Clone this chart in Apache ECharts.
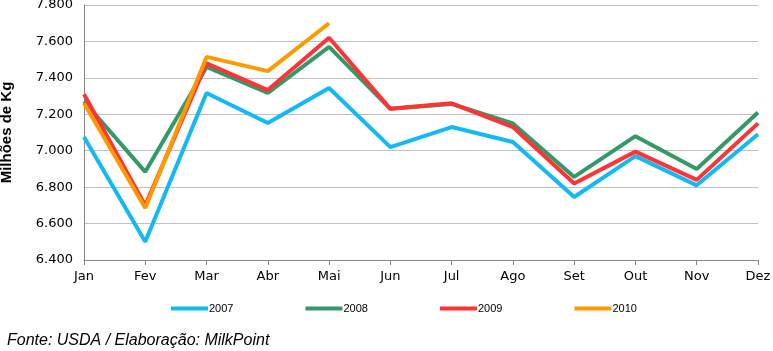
<!DOCTYPE html>
<html><head><meta charset="utf-8">
<script src="https://cdn.jsdelivr.net/npm/echarts@6/dist/echarts.min.js"></script>
<style>html,body{margin:0;padding:0;background:#fff}#c{width:773px;height:351px}</style>
</head><body><div id="c"></div>
<script>
const months = ['Jan','Fev','Mar','Abr','Mai','Jun','Jul','Ago','Set','Out','Nov','Dez'];
const years = ['2007','2008','2009','2010'];
const s2007 = [7075, 6500, 7317, 7152, 7344, 7020, 7130, 7048, 6746, 6970, 6810, 7090];
const s2008 = [7270, 6884, 7460, 7317, 7570, 7230, 7257, 7150, 6856, 7080, 6900, 7210];
const s2009 = [7310, 6700, 7480, 7333, 7620, 7230, 7260, 7130, 6820, 6995, 6840, 7150];
const s2010 = [7260, 6685, 7515, 7437, 7700];
const yTicks = {min: 6400, max: 7800, interval: 200};
const colors = ['#12b9f5', '#339966', '#ff3333', '#ff9900'];

const chart = echarts.init(document.getElementById('c'));
const fmt = v => { const s = String(Math.round(v)); return s.slice(0, s.length-3) + '.' + s.slice(-3); };
const mk = (name, data, color) => ({
  name, type: 'line', data, symbol: 'none', color,
  lineStyle: {width: 4, color}, itemStyle: {color}
});
chart.setOption({
  animation: false,
  grid: {left: 84, right: 15, top: 5, bottom: 91, outerBoundsMode: 'none', containLabel: false},
  legend: {
    data: years, left: 171, top: 303, padding: 0, itemWidth: 37, itemHeight: 4, itemGap: 72,
    icon: 'rect',
    textStyle: {fontFamily: 'Liberation Sans', fontSize: 11, color: '#000', padding: [0,0,0,-4]}
  },
  xAxis: {
    type: 'category', data: months, boundaryGap: false,
    axisLine: {lineStyle: {color: '#888'}},
    axisTick: {show: true, lineStyle: {color: '#888'}, length: 5},
    axisLabel: {fontFamily: 'DejaVu Sans', fontSize: 13, color: '#000', margin: 10},
    splitLine: {show: false}
  },
  yAxis: {
    type: 'value', min: yTicks.min, max: yTicks.max, interval: yTicks.interval,
    name: 'Milhões de Kg', nameLocation: 'middle', nameGap: 70,
    nameTextStyle: {fontFamily: 'Liberation Sans', fontSize: 15, fontWeight: 'bold', color: '#000'},
    axisLine: {show: true, lineStyle: {color: '#888'}},
    axisTick: {show: false},
    axisLabel: {fontFamily: 'DejaVu Sans', fontSize: 13, color: '#000', formatter: fmt, margin: 11},
    splitLine: {lineStyle: {color: '#c0c0c0', width: 1}}
  },
  series: [mk('2007', s2007, colors[0]), mk('2008', s2008, colors[1]), mk('2009', s2009, colors[2]), mk('2010', s2010, colors[3])],
  graphic: [{type: 'text', left: 7, top: 333, style: {text: 'Fonte: USDA / Elaboração: MilkPoint', font: 'italic 16px "Liberation Sans"', fill: '#000'}}]
});
</script></body></html>
